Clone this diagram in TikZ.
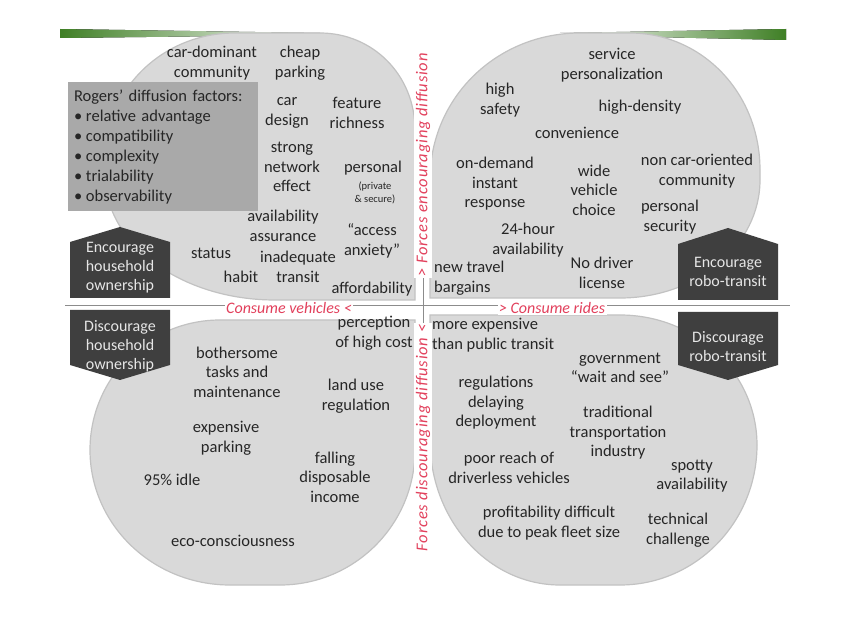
\documentclass[tikz,border=0pt]{standalone}
\usepackage{fontspec}
\setmainfont{Carlito}
\newfontfamily\axfont[LetterSpace=5]{Carlito}
\definecolor{blobfill}{HTML}{D9D9D9}
\definecolor{blobline}{HTML}{C2C2C2}
\definecolor{txt}{HTML}{262626}
\definecolor{housefill}{HTML}{3F3F3F}
\definecolor{htxt}{HTML}{E6E6E6}
\definecolor{rogfill}{HTML}{A9A9A9}
\definecolor{axred}{HTML}{E2405C}
\definecolor{leaf}{HTML}{3F7F25}
\definecolor{axline}{HTML}{8C8C8C}
\tikzset{
  blob/.style={fill=blobfill, draw=blobline, line width=1.2pt},
  lbl/.style={font=\fontsize{16.5}{19.5}\selectfont, text=txt, align=center, inner sep=0pt},
  small/.style={font=\fontsize{10.5}{12.5}\selectfont, text=txt, align=center, inner sep=0pt},
  house/.style={fill=housefill, draw=none},
  htext/.style={font=\fontsize{16}{19}\selectfont, text=htxt, align=center, inner sep=0pt},
  axlbl/.style={font=\fontsize{16}{18}\selectfont\itshape, text=axred, fill=white, inner sep=1.5pt},
  vaxlbl/.style={font=\fontsize{16.5}{18}\axfont\itshape, text=axred, fill=white, inner sep=1.5pt},
  rogers/.style={fill=rogfill, draw=none, text=txt, minimum width=190pt, minimum height=129pt,
    font=\fontsize{16.5}{20}\selectfont, align=left, text width=178pt, inner sep=0pt},
}
\begin{document}
\begin{tikzpicture}[x=1pt,y=-1pt]
\fill[white] (0,0) rectangle (844,620);
\useasboundingbox (0,0) rectangle (844,620);

% green bars
\fill[left color=leaf, right color=white] (60,29) -- (320,33) -- (320,35) -- (60,38) -- cycle;
\fill[left color=white, right color=leaf] (560,33) -- (786,29) -- (786,40) -- (560,35) -- cycle;

% axes
\coordinate (hl) at (65,305);
\coordinate (hr) at (790,305);
\coordinate (vt) at (423,62);
\coordinate (vb) at (423,548);
\draw[axline, line width=0.8pt] (hl) -- (hr);
\draw[axline, line width=0.8pt] (vt) -- (vb);

% blobs
\path[blob] (415,300) -- (415,130)
  .. controls (415,74.8) and (372.5,33) .. (320,33) -- (235,33)
  .. controls (163.2,33) and (105,88.2) .. (105,160) -- (105,175)
  .. controls (105,244) and (181.1,300) .. (275,300) -- cycle;
\path[blob] (430,298) -- (430,180)
  .. controls (430,97.2) and (497.2,33) .. (580,33) -- (630,33)
  .. controls (701.8,33) and (760,92.7) .. (760,170) -- (760,180)
  .. controls (760,245.2) and (697.3,298) .. (620,298) -- cycle;
\path[blob] (415,320) -- (220,320)
  .. controls (148.2,320) and (90,378.2) .. (90,450)
  .. controls (90,524.6) and (152.7,585) .. (230,585) -- (280,585)
  .. controls (354.6,585) and (415,524.6) .. (415,450) -- cycle;
\path[blob] (430,315) -- (620,315)
  .. controls (695.7,315) and (757,373.2) .. (757,445)
  .. controls (757,522.3) and (695.7,585) .. (620,585) -- (560,585)
  .. controls (488.2,585) and (430,520.1) .. (430,440) -- cycle;

% axis labels
\node[axlbl] (consv) at (289,308) {Consume vehicles <};
\node[axlbl] (consr) at (552,308) {> Consume rides};
\node[vaxlbl, rotate=90] (encf) at (423,165) {> Forces encouraging diffusion};
\node[vaxlbl, rotate=90] (discf) at (423,438) {Forces discouraging diffusion <};

% Rogers box
\node[rogers] (rog) at (163,147) {Rogers' diffusion factors:\\
\makebox[12pt][l]{•}relative advantage\\
\makebox[12pt][l]{•}compatibility\\
\makebox[12pt][l]{•}complexity\\
\makebox[12pt][l]{•}trialability\\
\makebox[12pt][l]{•}observability};

% houses
\path[house] (70,298) -- (70,242) -- (120,227) -- (170,242) -- (170,298) -- cycle;
\path[house] (70,310) -- (170,310) -- (170,365) -- (120,380) -- (70,365) -- cycle;
\path[house] (678,300) -- (678,244) -- (728,228) -- (778,244) -- (778,300) -- cycle;
\path[house] (678,312) -- (778,312) -- (778,365) -- (728,380) -- (678,365) -- cycle;
\node[htext] (ehh) at (120,268) {Encourage\\household\\ownership};
\node[htext] (dhh) at (120,346) {Discourage\\household\\ownership};
\node[htext] (ert) at (728,272) {Encourage\\robo-transit};
\node[htext] (drt) at (728,347) {Discourage\\robo-transit};

% top-left texts
\node[lbl] (cardom) at (212,63) {car-dominant\\community};
\node[lbl] (cheap) at (300,63) {cheap\\parking};
\node[lbl] (cardesign) at (287,113) {car\\design};
\node[lbl] (feature) at (357,113) {feature\\richness};
\node[lbl] (network) at (292,167) {strong\\network\\effect};
\node[lbl] (personal) at (373,168) {personal};
\node[small] (privsec) at (375,193) {(private\\\& secure)};
\node[lbl] (avail) at (283,226) {availability\\assurance};
\node[lbl] (access) at (372,241) {“access\\anxiety”};
\node[lbl] (status) at (211,253) {status};
\node[lbl] (inadeq) at (298,267) {inadequate\\transit};
\node[lbl] (habit) at (241,277) {habit};
\node[lbl] (afford) at (372,289) {affordability};

% top-right texts
\node[lbl] (service) at (612,65) {service\\personalization};
\node[lbl] (safety) at (500,100) {high\\safety};
\node[lbl] (density) at (640,107) {high-density};
\node[lbl] (conv) at (577,133) {convenience};
\node[lbl] (ondemand) at (495,184) {on-demand\\instant\\response};
\node[lbl] (wide) at (594,190) {wide\\vehicle\\choice};
\node[lbl] (noncar) at (697,171) {non car-oriented\\community};
\node[lbl] (security) at (670,217) {personal\\security};
\node[lbl] (hour) at (528,240) {24-hour\\availability};
\node[lbl, anchor=west, align=left] (bargains) at (434,278) {new travel\\bargains};
\node[lbl] (nodriver) at (602,273) {No driver\\license};

% bottom-left texts
\node[lbl] (percep) at (374,333) {perception\\of high cost};
\node[lbl] (bother) at (237,372) {bothersome\\tasks and\\maintenance};
\node[lbl] (landuse) at (356,396) {land use\\regulation};
\node[lbl] (expparking) at (226,438) {expensive\\parking};
\node[lbl] (falling) at (335,477) {falling\\disposable\\income};
\node[lbl] (idle) at (172,480) {95\% idle};
\node[lbl] (eco) at (233,541) {eco-consciousness};

% bottom-right texts
\node[lbl, anchor=west, align=left] (moreexp) at (432,335) {more expensive\\than public transit};
\node[lbl] (gov) at (620,368) {government\\“wait and see”};
\node[lbl] (reg) at (496,403) {regulations\\delaying\\deployment};
\node[lbl] (trad) at (618,433) {traditional\\transportation\\industry};
\node[lbl] (poor) at (509,468) {poor reach of\\driverless vehicles};
\node[lbl] (spotty) at (692,476) {spotty\\availability};
\node[lbl] (profit) at (549,523) {profitability difficult\\due to peak fleet size};
\node[lbl] (tech) at (678,530) {technical\\challenge};
\end{tikzpicture}
\end{document}
